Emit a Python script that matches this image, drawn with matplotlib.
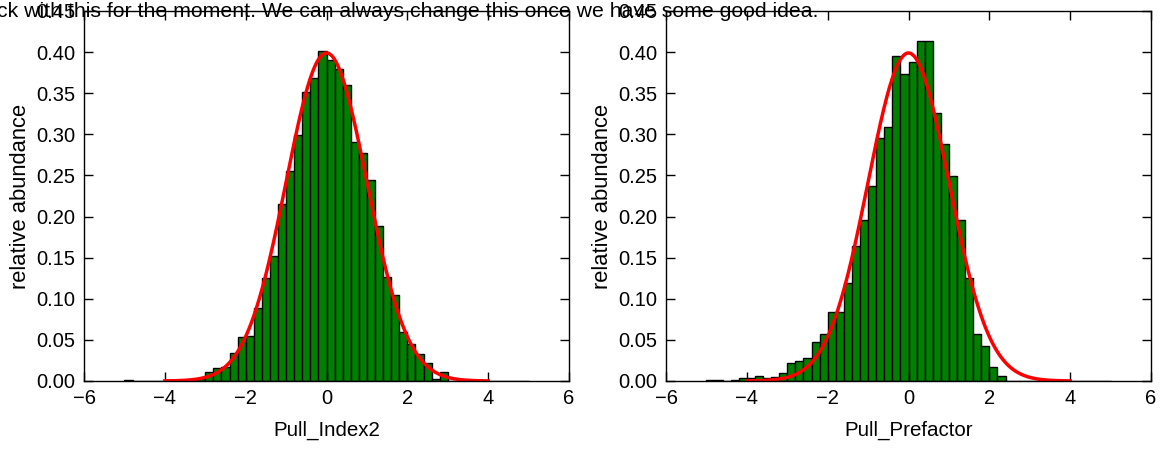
import numpy as np
import matplotlib
matplotlib.use("Agg")
import matplotlib.pyplot as plt

plt.rcParams['font.family'] = ['Liberation Sans', 'DejaVu Sans']

# ---- data ----
bin_edges = np.linspace(-5.0, 5.0, 51)   # 50 bins of width 0.2

heights_index2 = [
    0.001, 0, 0, 0, 0, 0, 0, 0, 0.001, 0.002,
    0.0105, 0.016, 0.017, 0.034, 0.054, 0.055, 0.089, 0.125, 0.152, 0.215,
    0.255, 0.299, 0.351, 0.368, 0.401, 0.391, 0.379, 0.360, 0.291, 0.277,
    0.245, 0.188, 0.126, 0.104, 0.059, 0.045, 0.033, 0.022, 0.003, 0.011,
    0, 0, 0, 0, 0, 0, 0, 0, 0, 0,
]

heights_prefactor = [
    0.001, 0.001, 0, 0.001, 0.004, 0.004, 0.006, 0.004, 0.005, 0.010,
    0.022, 0.024, 0.028, 0.048, 0.057, 0.084, 0.084, 0.119, 0.164, 0.196,
    0.237, 0.295, 0.309, 0.395, 0.373, 0.388, 0.414, 0.413, 0.326, 0.288,
    0.249, 0.196, 0.125, 0.057, 0.042, 0.017, 0.0065, 0, 0, 0,
    0, 0, 0, 0, 0, 0, 0, 0, 0, 0,
]

xlabels = ["Pull_Index2", "Pull_Prefactor"]
ylabel = "relative abundance"
title_text = "ck with this for the moment. We can always change this once we have some good idea."

gauss_mu = 0.0
gauss_sigma = 1.0
gauss_range = (-4.0, 4.0)

xticks = [-6, -4, -2, 0, 2, 4, 6]
yticks = [0.00, 0.05, 0.10, 0.15, 0.20, 0.25, 0.30, 0.35, 0.40, 0.45]

# ---- figure ----
FS = 14.5
fig = plt.figure(figsize=(11.61, 4.5), dpi=100)
fig.patch.set_facecolor("white")

axes_pos = [
    [84 / 1161, 69 / 450, 485 / 1161, 370 / 450],
    [666 / 1161, 69 / 450, 485 / 1161, 370 / 450],
]

xs = np.linspace(gauss_range[0], gauss_range[1], 400)
pdf = np.exp(-0.5 * ((xs - gauss_mu) / gauss_sigma) ** 2) / (gauss_sigma * np.sqrt(2 * np.pi))

for pos, heights, xl in zip(axes_pos, [heights_index2, heights_prefactor], xlabels):
    ax = fig.add_axes(pos)
    ax.bar(bin_edges[:-1], heights, width=np.diff(bin_edges), align="edge",
           color="#008000", edgecolor="black", linewidth=1.0)
    ax.plot(xs, pdf, color="#ff0000", linewidth=2.5)
    ax.set_xlim(-6, 6)
    ax.set_ylim(0, 0.45)
    ax.set_xticks(xticks)
    ax.set_yticks(yticks)
    ax.set_yticklabels([f"{v:.2f}" for v in yticks])
    ax.tick_params(direction="in", top=True, right=True, length=6.5, width=1,
                   labelsize=FS, pad=6)
    for s in ax.spines.values():
        s.set_linewidth(1.0)
    ax.set_xlabel(xl, fontsize=14.8, labelpad=9)
    ax.set_ylabel(ylabel, fontsize=15.8, labelpad=4)

fig.text(818 / 1161, 1 - 17 / 450, title_text, ha="right", va="baseline",
         fontsize=15.3)

fig.savefig("out.png", dpi=100, facecolor="white")
